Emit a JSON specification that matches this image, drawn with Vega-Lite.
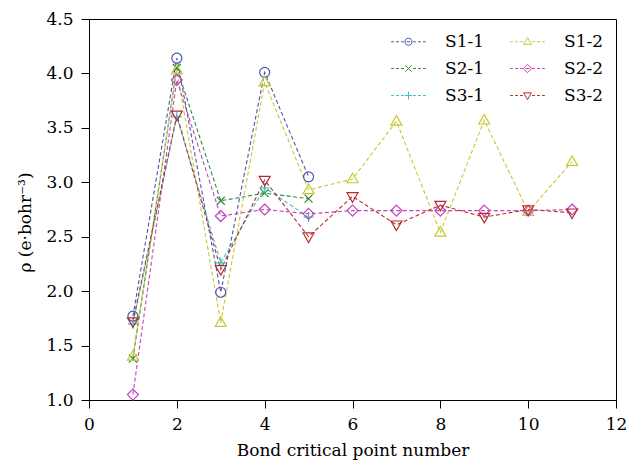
{
  "$schema": "https://vega.github.io/schema/vega-lite/v6.json",
  "width": 527,
  "height": 381,
  "autosize": "none",
  "padding": {"left": 89, "top": 19, "right": 11, "bottom": 62},
  "background": "white",
  "config": {
    "view": {"stroke": "black", "strokeWidth": 1},
    "axis": {
      "grid": false,
      "domainColor": "black",
      "tickColor": "black",
      "tickSize": 8,
      "labelFont": "DejaVu Serif",
      "labelFontSize": 17,
      "labelColor": "black",
      "titleFont": "DejaVu Serif",
      "titleFontSize": 17,
      "titleFontWeight": "normal",
      "titleColor": "black"
    }
  },
  "data": {
    "values": [
      {"series": "S1-1", "x": 1, "y": 1.77}, {"series": "S1-1", "x": 2, "y": 4.14}, {"series": "S1-1", "x": 3, "y": 1.99}, {"series": "S1-1", "x": 4, "y": 4.01}, {"series": "S1-1", "x": 5, "y": 3.05},
      {"series": "S2-1", "x": 1, "y": 1.38}, {"series": "S2-1", "x": 2, "y": 4.05}, {"series": "S2-1", "x": 3, "y": 2.83}, {"series": "S2-1", "x": 4, "y": 2.90}, {"series": "S2-1", "x": 5, "y": 2.85},
      {"series": "S3-1", "x": 1, "y": 1.70}, {"series": "S3-1", "x": 2, "y": 3.60}, {"series": "S3-1", "x": 3, "y": 2.26}, {"series": "S3-1", "x": 4, "y": 2.95}, {"series": "S3-1", "x": 5, "y": 2.68},
      {"series": "S1-2", "x": 1, "y": 1.40}, {"series": "S1-2", "x": 2, "y": 4.03}, {"series": "S1-2", "x": 3, "y": 1.71}, {"series": "S1-2", "x": 4, "y": 3.92}, {"series": "S1-2", "x": 5, "y": 2.93}, {"series": "S1-2", "x": 6, "y": 3.03}, {"series": "S1-2", "x": 7, "y": 3.56}, {"series": "S1-2", "x": 8, "y": 2.54}, {"series": "S1-2", "x": 9, "y": 3.57}, {"series": "S1-2", "x": 10, "y": 2.73}, {"series": "S1-2", "x": 11, "y": 3.19},
      {"series": "S2-2", "x": 1, "y": 1.05}, {"series": "S2-2", "x": 2, "y": 3.94}, {"series": "S2-2", "x": 3, "y": 2.69}, {"series": "S2-2", "x": 4, "y": 2.75}, {"series": "S2-2", "x": 5, "y": 2.71}, {"series": "S2-2", "x": 6, "y": 2.74}, {"series": "S2-2", "x": 7, "y": 2.74}, {"series": "S2-2", "x": 8, "y": 2.74}, {"series": "S2-2", "x": 9, "y": 2.74}, {"series": "S2-2", "x": 10, "y": 2.74}, {"series": "S2-2", "x": 11, "y": 2.75},
      {"series": "S3-2", "x": 1, "y": 1.72}, {"series": "S3-2", "x": 2, "y": 3.62}, {"series": "S3-2", "x": 3, "y": 2.20}, {"series": "S3-2", "x": 4, "y": 3.02}, {"series": "S3-2", "x": 5, "y": 2.50}, {"series": "S3-2", "x": 6, "y": 2.87}, {"series": "S3-2", "x": 7, "y": 2.61}, {"series": "S3-2", "x": 8, "y": 2.79}, {"series": "S3-2", "x": 9, "y": 2.68}, {"series": "S3-2", "x": 10, "y": 2.75}, {"series": "S3-2", "x": 11, "y": 2.72}
    ]
  },
  "encoding": {
    "x": {
      "field": "x", "type": "quantitative",
      "scale": {"domain": [0, 12], "nice": false, "zero": false},
      "axis": {"values": [0, 2, 4, 6, 8, 10, 12], "title": "Bond critical point number", "labelPadding": 8, "titlePadding": 10, "labelFlush": false}
    },
    "y": {
      "field": "y", "type": "quantitative",
      "scale": {"domain": [1, 4.5], "nice": false, "zero": false},
      "axis": {"values": [1, 1.5, 2, 2.5, 3, 3.5, 4, 4.5], "format": ".1f", "title": "ρ (e·bohr⁻³)", "titleFontSize": 17, "titleY": 203, "labelPadding": 8, "titlePadding": 11, "labelFlush": false}
    }
  },
  "resolve": {"scale": {"shape": "independent"}, "legend": {"shape": "independent", "color": "independent"}},
  "layer": [
    {
      "mark": {"type": "line", "strokeDash": [4, 2.5], "strokeWidth": 1.1},
      "encoding": {
        "color": {
          "field": "series", "type": "nominal",
          "scale": {"domain": ["S1-1", "S2-1", "S3-1", "S1-2", "S2-2", "S3-2"], "range": ["#4a55b0", "#2e8a3e", "#3ec2c2", "#c8c832", "#c444b8", "#b82a30"]},
          "legend": null
        },
        "detail": {"field": "series"}
      }
    },
    {
      "mark": {"type": "point", "filled": false, "strokeWidth": 1.2, "size": 100, "opacity": 1},
      "encoding": {
        "color": {"field": "series", "type": "nominal", "legend": null},
        "shape": {
          "field": "series", "type": "nominal",
          "scale": {"domain": ["S1-1", "S2-1", "S3-1", "S1-2", "S2-2", "S3-2"], "range": ["circle", "M-0.8,-0.8L0.8,0.8M-0.8,0.8L0.8,-0.8", "M-1,0L1,0M0,-1L0,1", "M0,-1.15L1.1,0.75L-1.1,0.75Z", "M0,-1.1L1.1,0L0,1.1L-1.1,0Z", "M0,1.15L1.1,-0.75L-1.1,-0.75Z"]},
          "legend": null
        }
      }
    },
    {
      "transform": [{"filter": "false"}],
      "mark": {"type": "point", "filled": false, "strokeWidth": 1, "opacity": 1},
      "encoding": {
        "color": {
          "field": "series", "type": "nominal",
          "legend": {
            "title": null,
            "orient": "none",
            "legendX": 311,
            "legendY": 14,
            "columns": 2,
            "padding": 0,
            "labelFont": "DejaVu Serif",
            "labelFontSize": 17,
            "labelColor": "black",
            "labelOffset": 28,
            "rowPadding": 9,
            "columnPadding": 23,
            "symbolSize": 50,
            "symbolStrokeWidth": 1
          }
        },
        "shape": {
          "field": "series", "type": "nominal",
          "scale": {"domain": ["S1-1", "S2-1", "S3-1", "S1-2", "S2-2", "S3-2"], "range": [
            "M-4.9,0H-4.1M-3.5,0H-2.7M-2.1,0H-1.3M1.3,0H2.1M2.7,0H3.5M4.1,0H4.9M-0.5,0H0.5M1,0A1,1 0 1,1 -1,0A1,1 0 1,1 1,0",
            "M-4.9,0H-4.1M-3.5,0H-2.7M-2.1,0H-1.3M1.3,0H2.1M2.7,0H3.5M4.1,0H4.9M-0.9,-0.9L0.9,0.9M-0.9,0.9L0.9,-0.9",
            "M-4.9,0H-4.1M-3.5,0H-2.7M-2.1,0H-1.3M1.3,0H2.1M2.7,0H3.5M4.1,0H4.9M-1,0H1M0,-1.1V1.1",
            "M-4.9,0H-4.1M-3.5,0H-2.7M-2.1,0H-1.3M1.3,0H2.1M2.7,0H3.5M4.1,0H4.9M0,-1.15L1.1,0.75L-1.1,0.75Z",
            "M-4.9,0H-4.1M-3.5,0H-2.7M-2.1,0H-1.3M1.3,0H2.1M2.7,0H3.5M4.1,0H4.9M-0.5,0H0.5M0,-1.2L1.2,0L0,1.2L-1.2,0Z",
            "M-4.9,0H-4.1M-3.5,0H-2.7M-2.1,0H-1.3M1.3,0H2.1M2.7,0H3.5M4.1,0H4.9M0,1.15L1.1,-0.75L-1.1,-0.75Z"
          ]}
        }
      }
    }
  ]
}
